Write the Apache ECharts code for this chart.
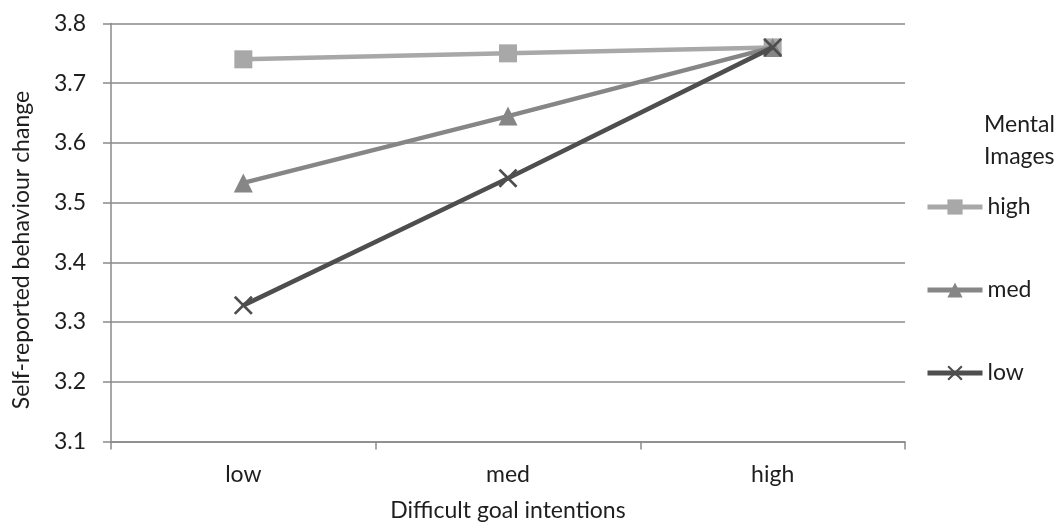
<!DOCTYPE html>
<html><head><meta charset="utf-8">
<script src="https://cdn.jsdelivr.net/npm/echarts@6/dist/echarts.min.js"></script>
<style>html,body{margin:0;padding:0;background:#fff}#c{width:1062px;height:529px}</style>
</head><body><div id="c"></div>
<script>
const categories = ['low', 'med', 'high'];
const seriesNames = ['high', 'med', 'low'];
const highValues = [3.74, 3.75, 3.76];
const medValues = [3.533, 3.645, 3.76];
const lowValues = [3.328, 3.541, 3.76];
const yMin = 3.1, yMax = 3.8, yStep = 0.1;
const xTitle = 'Difficult goal intentions';
const yTitle = 'Self-reported behaviour change';
const legendTitle = 'Mental\nImages';

const FONT = 'Lato, "Open Sans", sans-serif';
const FS = 23;
const TXT = '#1e1e1e';
const AX = '#8a8a8a';
const crossPath = 'path://M0,1 L1,0 L5,4 L9,0 L10,1 L6,5 L10,9 L9,10 L5,6 L1,10 L0,9 L4,5 Z';
const colors = ['#a8a8a8', '#868686', '#4e4e4e'];
const symbols = ['rect', 'triangle', crossPath];
const symbolSizes = [18, 19, 19];
const data = [highValues, medValues, lowValues];
const legendRows = [207, 290, 373];

const chart = echarts.init(document.getElementById('c'));
chart.setOption({
  animation: false,
  textStyle: { fontFamily: FONT },
  grid: { left: 111, right: 157, top: 23.5, bottom: 87.5, outerBoundsMode: 'none', containLabel: false },
  xAxis: {
    type: 'category', data: categories, boundaryGap: true,
    axisLine: { lineStyle: { color: AX, width: 1.5 } },
    axisTick: { show: true, length: 8, lineStyle: { color: AX, width: 1.5 } },
    axisLabel: { fontSize: FS, color: TXT, margin: 22, fontFamily: FONT }
  },
  yAxis: {
    type: 'value', min: yMin, max: yMax, interval: yStep,
    axisLine: { show: true, lineStyle: { color: AX, width: 1.5 } },
    axisTick: { show: true, length: 8, lineStyle: { color: AX, width: 1.5 } },
    splitLine: { lineStyle: { color: AX, width: 1.5 } },
    axisLabel: { fontSize: FS, color: TXT, margin: 25, fontFamily: FONT, formatter: v => v.toFixed(1) }
  },
  graphic: [
    { type: 'text', x: 984, y: 109, style: { text: legendTitle, fontSize: FS, lineHeight: 32, fill: TXT, fontFamily: FONT } },
    { type: 'text', x: 508, y: 511, style: { text: xTitle, fontSize: FS, fill: TXT, fontFamily: FONT, align: 'center', verticalAlign: 'middle' } },
    { type: 'text', x: 22, y: 250, rotation: Math.PI / 2, style: { text: yTitle, fontSize: FS, fill: TXT, fontFamily: FONT, align: 'center', verticalAlign: 'middle' } }
  ],
  legend: seriesNames.map((n, i) => ({
    orient: 'vertical', left: 925, top: legendRows[i] - 14, itemWidth: 55, itemHeight: 19, itemGap: 0,
    padding: 0,
    lineStyle: { width: 5 },
    textStyle: { fontSize: FS, lineHeight: 28, color: TXT, fontFamily: FONT },
    data: [n]
  })),
  series: seriesNames.map((n, i) => ({
    name: n, type: 'line', data: data[i],
    symbol: symbols[i], symbolSize: symbolSizes[i], showAllSymbol: true,
    color: colors[i],
    lineStyle: { width: 4.5, color: colors[i] },
    itemStyle: { color: colors[i] },
    z: 2 + i
  }))
});
</script></body></html>
